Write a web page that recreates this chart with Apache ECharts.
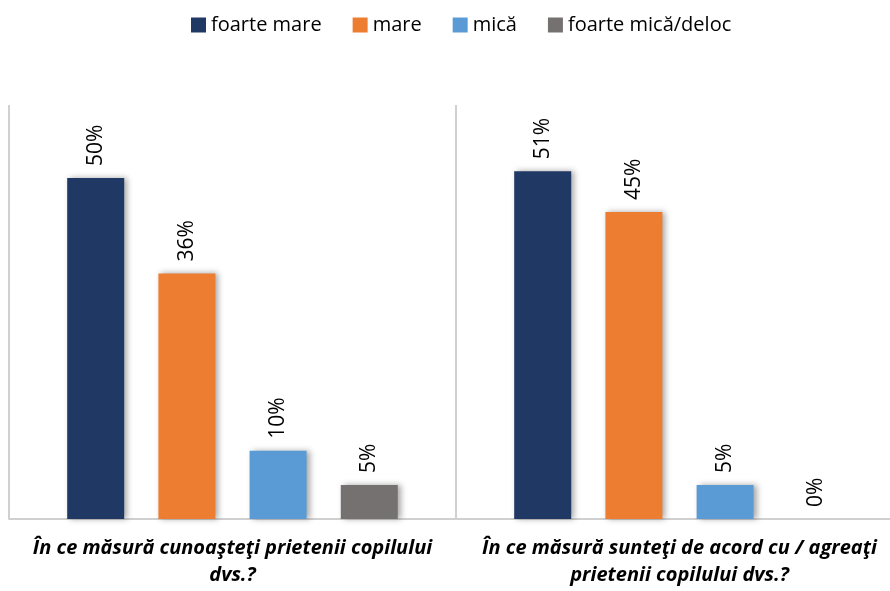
<!DOCTYPE html>
<html>
<head>
	<meta charset="utf-8">
	<title></title>
	<script src="https://cdn.jsdelivr.net/npm/echarts@6/dist/echarts.min.js"></script>
	<style>
		html, body { margin: 0; padding: 0; background: #fff; }
		#box_1 { width: 890px; height: 591px; }
	</style>
</head>
<body>
	<div id="box_1"></div>
<script>
	var categories = ['În ce măsură cunoaşteţi prietenii copilului\ndvs.?', 'În ce măsură sunteţi de acord cu / agreaţi\nprietenii copilului dvs.?']
	var seriesNames = ['foarte mare', 'mare', 'mică', 'foarte mică/deloc']
	var foarteMare = [50, 51]
	var mare = [36, 45]
	var mica = [10, 5]
	var foarteMica = [5, 0]
	var colors = ['#1f3864', '#ed7d31', '#5b9bd5', '#767171']

	var valueLists = [foarteMare, mare, mica, foarteMica]
	var myChart = echarts.init(document.getElementById('box_1'))
	var series = []
	for (var i = 0; i < valueLists.length; i++) {
		series.push({
			name: seriesNames[i],
			type: 'bar',
			data: valueLists[i],
			barWidth: 57,
			barGap: '60%',
			itemStyle: {
				color: colors[i],
				shadowBlur: 6,
				shadowOffsetX: 3,
				shadowOffsetY: 0,
				shadowColor: 'rgba(0,0,0,0.35)'
			},
			label: {
				show: true,
				position: 'top',
				rotate: 90,
				align: 'left',
				verticalAlign: 'middle',
				distance: 12,
				fontFamily: 'Open Sans',
				fontSize: 21,
				color: '#000',
				formatter: '{c}%'
			}
		})
	}
	var option = {
		animation: false,
		color: colors,
		legend: {
			top: 10,
			left: 186,
			icon: 'rect',
			itemWidth: 15,
			itemHeight: 15,
			itemGap: 31,
			textStyle: { fontFamily: 'Open Sans', fontSize: 20, color: '#000' },
			data: seriesNames
		},
		grid: {
			left: 9,
			width: 894,
			top: 105,
			bottom: 72,
			containLabel: false,
			outerBoundsMode: 'none'
		},
		xAxis: {
			type: 'category',
			data: categories,
			axisTick: { show: false },
			axisLine: { lineStyle: { color: '#d0d0d0', width: 2 } },
			splitLine: { show: true, lineStyle: { color: '#d0d0d0', width: 2 } },
			axisLabel: {
				margin: 16,
				fontFamily: 'Open Sans',
				fontSize: 20,
				fontWeight: 'bold',
				fontStyle: 'italic',
				color: '#000',
				lineHeight: 27,
				interval: 0
			}
		},
		yAxis: {
			type: 'value',
			min: 0,
			max: 60.7,
			show: false,
			splitLine: { show: false }
		},
		series: series
	}
	myChart.setOption(option)
</script>
</body>
</html>
